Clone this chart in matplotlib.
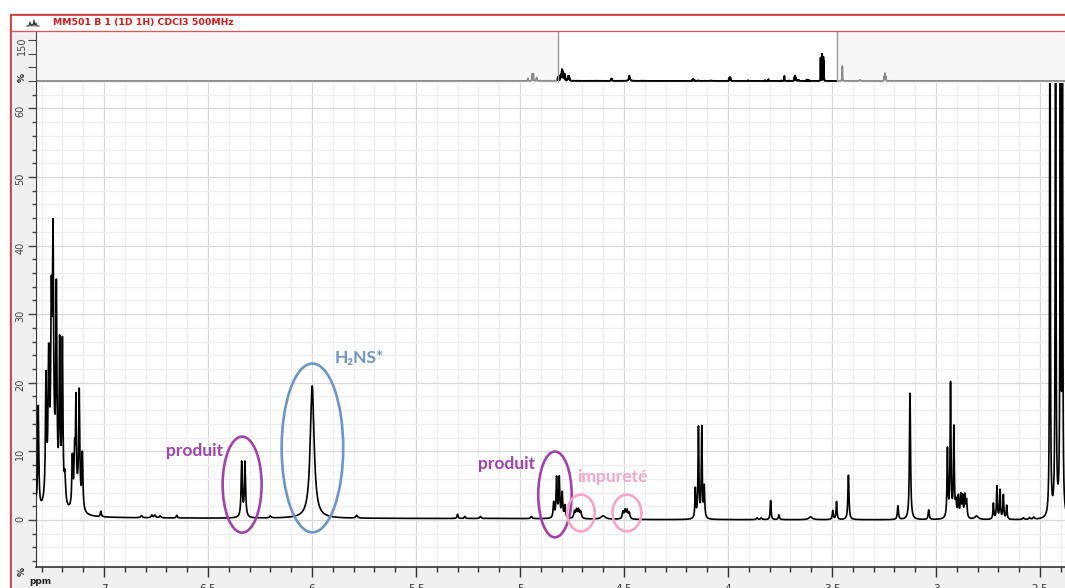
import numpy as np
import matplotlib
matplotlib.use("Agg")
import matplotlib.pyplot as plt
from matplotlib.patches import Ellipse, Rectangle
from matplotlib.lines import Line2D
from matplotlib.ticker import MultipleLocator, FuncFormatter, FixedLocator

# peaks: (ppm, height, half width at half height in ppm)
aromatic_peaks = [
    (7.336, 9.0, 0.004), (7.316, 15.0, 0.003), (7.279, 17.0, 0.003),
    (7.266, 17.0, 0.003), (7.253, 20.0, 0.003), (7.245, 30.0, 0.003),
    (7.229, 28.0, 0.003), (7.213, 22.0, 0.003), (7.200, 23.0, 0.003),
    (7.188, 4.0, 0.004), (7.152, 7.0, 0.003), (7.141, 7.0, 0.003),
    (7.135, 13.0, 0.002), (7.119, 16.0, 0.003), (7.104, 8.0, 0.003),
]
aromatic_envelope = [(7.25, 10.0, 0.018), (7.13, 3.0, 0.015)]
small_peaks = [
    (7.015, 0.8, 0.003), (6.82, 0.3, 0.005), (6.77, 0.4, 0.004),
    (6.755, 0.4, 0.004), (6.73, 0.3, 0.004), (6.65, 0.4, 0.003),
    (6.20, 0.3, 0.004), (5.785, 0.4, 0.005), (5.30, 0.6, 0.003),
    (5.265, 0.3, 0.003), (5.19, 0.3, 0.004), (4.945, 0.3, 0.004),
    (4.60, 0.5, 0.012),
]
product_peaks = [
    (6.338, 8.0, 0.0033), (6.322, 8.0, 0.0033),
    (4.838, 2.2, 0.003), (4.824, 5.8, 0.003), (4.811, 5.8, 0.003),
    (4.797, 3.6, 0.003), (4.784, 1.8, 0.003),
]
h2ns_peak = [(5.999, 19.3, 0.011)]
impurity_peaks = [
    (4.738, 1.0, 0.004), (4.728, 1.2, 0.004), (4.718, 1.2, 0.004), (4.708, 1.0, 0.004),
    (4.505, 1.0, 0.004), (4.495, 1.2, 0.004), (4.485, 1.2, 0.004), (4.475, 0.9, 0.004),
]
aliphatic_peaks = [
    (4.157, 4.3, 0.0025), (4.142, 13.2, 0.0025), (4.126, 13.2, 0.0025), (4.114, 4.5, 0.0025),
    (3.86, 0.25, 0.004), (3.84, 0.25, 0.004), (3.795, 2.8, 0.0025), (3.755, 0.7, 0.003),
    (3.603, 0.4, 0.01), (3.496, 1.3, 0.003), (3.478, 2.6, 0.0025), (3.421, 6.5, 0.003),
    (3.183, 2.0, 0.003), (3.125, 18.5, 0.003), (3.035, 1.4, 0.003),
    (2.945, 10.0, 0.0025), (2.930, 19.5, 0.0025), (2.914, 13.0, 0.0025),
    (2.904, 2.0, 0.003), (2.893, 3.0, 0.003), (2.881, 3.2, 0.003), (2.872, 3.0, 0.003),
    (2.861, 3.2, 0.003), (2.853, 2.5, 0.003), (2.805, 0.5, 0.01),
    (2.724, 2.3, 0.0025), (2.707, 4.8, 0.0025), (2.692, 4.2, 0.0025),
    (2.676, 3.5, 0.0025), (2.660, 2.0, 0.0025),
    (2.58, 0.25, 0.004), (2.55, 0.25, 0.004), (2.53, 0.3, 0.004),
    (2.452, 85.0, 0.0018), (2.425, 100.0, 0.0018), (2.402, 90.0, 0.0018), (2.392, 70.0, 0.0018),
]
outside_view_peaks = [
    (7.88, 10.0, 0.004), (7.80, 26.0, 0.003), (7.78, 26.0, 0.003), (7.72, 12.0, 0.004),
    (2.05, 55.0, 0.003), (1.72, 4.0, 0.01),
    (1.272, 16.0, 0.003), (1.258, 28.0, 0.003), (1.244, 16.0, 0.003),
]
# slowly varying baseline offset (ppm, level)
baseline_ppm = [17.0, 7.0, 6.5, 5.0, 4.4, 2.0, -2.2]
baseline_level = [0.0, 0.3, 0.25, 0.2, 0.05, 0.0, 0.0]

view_ppm = (7.326, 2.15)        # displayed window (right part cropped in screenshot)
overview_ppm = (17.0, -2.08)

all_peaks = (aromatic_peaks + aromatic_envelope + small_peaks + product_peaks +
             h2ns_peak + impurity_peaks + aliphatic_peaks + outside_view_peaks)


def spectrum(x, peaks):
    y = np.interp(x, baseline_ppm[::-1], baseline_level[::-1])
    for c, h, w in peaks:
        y += h / (1 + ((x - c) / w) ** 2)
    return y


W, H = 1065, 588
fig = plt.figure(figsize=(W / 100, H / 100), dpi=100, facecolor="white")


def fx(x):
    return x / W


def fy(y):
    return 1 - y / H


# window chrome
fig.add_artist(Rectangle((fx(12), 0), fx(W - 12), fy(31), transform=fig.transFigure,
                         facecolor="#f0f0f0", edgecolor="none", zorder=0))
fig.add_artist(Line2D([fx(9.5), fx(9.5), fx(W)], [0, fy(13.8), fy(13.8)],
                      transform=fig.transFigure, color="#8c8c8c", lw=1.0))
fig.add_artist(Line2D([fx(11.3), fx(11.3), fx(W)], [0, fy(15.2), fy(15.2)],
                      transform=fig.transFigure, color="#e02828", lw=1.1))
fig.add_artist(Line2D([fx(11.3), fx(W)], [fy(30.6), fy(30.6)],
                      transform=fig.transFigure, color="#e85050", lw=0.9))
icon_x = [27, 29, 30, 31, 32, 33, 34, 35, 36, 37, 39]
icon_y = [26, 26, 22, 26, 24, 26, 20, 26, 23, 26, 26]
fig.add_artist(Line2D([fx(v) for v in icon_x], [fy(v) for v in icon_y],
                      transform=fig.transFigure, color="#333333", lw=0.8))
fig.text(fx(53), fy(22.7), "MM501 B 1 (1D 1H) CDCl3 500MHz", color="#d01818",
         fontsize=6.7, fontweight="bold", va="center", ha="left")

# overview strip
ax0 = fig.add_axes([fx(36.2), fy(82), fx(W - 36.2), (82 - 31) / H])
ax0.set_facecolor("#f7f7f7")
xo = np.arange(-2.2, 17.1, 0.0008)
yo = spectrum(xo, all_peaks)
ax0.axvspan(view_ppm[1], view_ppm[0], color="white", zorder=0)
ax0.plot(xo, yo, color="#8a8a8a", lw=1.3, zorder=2)
inside = (xo <= view_ppm[0]) & (xo >= view_ppm[1])
ax0.plot(xo[inside], yo[inside], color="black", lw=1.3, zorder=3)
for v in view_ppm:
    ax0.axvline(v, color="#9a9a9a", lw=1.0, zorder=4)
ax0.set_xlim(*overview_ppm)
ax0.set_ylim(-3.7, 183)
ax0.set_xticks([])
ax0.yaxis.set_major_locator(FixedLocator([0, 50, 100, 150]))
ax0.set_yticklabels(["", "", "", "150"])
ax0.tick_params(axis="y", length=5.5, width=0.8, colors="#444444", labelsize=7,
                labelrotation=90, pad=1.5)
for s in ["top", "right", "bottom"]:
    ax0.spines[s].set_visible(False)
ax0.spines["left"].set_color("#444444")

# main spectrum
ax = fig.add_axes([fx(36.2), fy(567.3), (1112.8 - 36.2) / W, (567.3 - 83) / H])
x = np.arange(2.1, 7.4, 0.0004)
y = spectrum(x, all_peaks)
ax.plot(x, y, color="black", lw=1.2, zorder=3)
ax.set_xlim(*view_ppm)
ax.set_ylim(-6.9, 63.7)
ax.set_axisbelow(True)
ax.xaxis.set_major_locator(MultipleLocator(0.5))
ax.xaxis.set_minor_locator(MultipleLocator(0.1))
ax.yaxis.set_major_locator(MultipleLocator(10))
ax.yaxis.set_minor_locator(MultipleLocator(2))
ax.xaxis.set_major_formatter(FuncFormatter(lambda v, p: f"{v:g}"))
ax.grid(which="major", color="#d8d8d8", lw=0.9)
ax.grid(which="minor", color="#eeeeee", lw=0.9)
ax.tick_params(axis="x", which="major", length=7, width=1, colors="#333333",
               labelsize=7.5, pad=5.0)
ax.tick_params(axis="x", which="minor", length=3.6, width=1, colors="#333333")
ax.tick_params(axis="y", which="major", length=5.8, width=1, colors="#444444",
               labelsize=7, labelrotation=90, pad=2)
ax.tick_params(axis="y", which="minor", length=3.2, width=1, colors="#444444")
for s in ["top", "right"]:
    ax.spines[s].set_visible(False)
ax.spines["left"].set_color("#333333")
ax.spines["bottom"].set_color("#333333")
ax.spines["bottom"].set_linewidth(1.2)

fig.text(fx(40), fy(582), "ppm", fontsize=6.5, fontweight="bold", ha="center",
         va="center", color="#222222")
fig.text(fx(22.5), fy(571), "%", fontsize=6.5, fontweight="bold", rotation=90,
         ha="center", va="center", color="#222222")
fig.text(fx(22.5), fy(77), "%", fontsize=6.5, fontweight="bold", rotation=90,
         ha="center", va="center", color="#222222")

# annotations
purple = "#a043ab"
blue = "#6f94c7"
pink = "#f6a5c8"
font = ["Lato", "DejaVu Sans"]
ellipses = [
    (6.336, 5.15, 0.1875, 14.0, purple),
    (5.998, 10.5, 0.296, 24.6, blue),
    (4.832, 3.72, 0.1606, 12.5, purple),
    (4.707, 1.02, 0.133, 5.35, pink),
    (4.486, 1.02, 0.139, 5.35, pink),
]
for cx, cy, w, h, c in ellipses:
    ax.add_patch(Ellipse((cx, cy), w, h, fill=False, edgecolor=c, lw=1.9, zorder=4))
labels = [
    (6.567, 10.06, "produit", purple),
    (5.774, 23.6, "H\u2082NS*", blue),
    (5.067, 8.16, "produit", purple),
    (4.555, 6.27, "impureté", pink),
]
for lx, ly, t, c in labels:
    ax.text(lx, ly, t, color=c, fontsize=12.5, fontweight="bold", family=font,
            ha="center", va="center", zorder=5)

fig.savefig("out.png", dpi=100)
